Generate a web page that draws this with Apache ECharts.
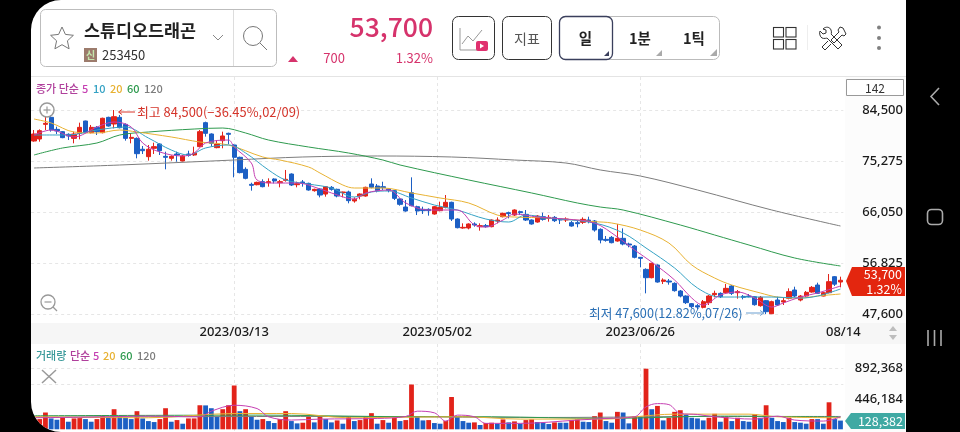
<!DOCTYPE html>
<html><head><meta charset="utf-8">
<style>
html,body{margin:0;padding:0;background:#000;width:960px;height:432px;overflow:hidden}
#frame{position:absolute;left:31px;top:0;width:875px;height:432px;background:#fff;border-radius:30px 0 0 30px;overflow:hidden}
#band{position:absolute;left:0;top:323px;width:875px;height:21px;background:#f6f6f6}
#gut{position:absolute;left:814px;top:77px;width:61px;height:355px;background:#fcfcfc}
#topline{position:absolute;left:0;top:76px;width:875px;height:1px;background:#e4e4e4}
#chart{position:absolute;left:-31px;top:0;width:960px;height:432px}
#hdr{position:absolute;left:0;top:0;width:960px;height:432px}
text{font-family:"Noto Sans CJK KR","Noto Sans",sans-serif}
</style></head><body>
<div id="frame"><div id="gut"></div><div id="band"></div><div id="topline"></div><div id="chart"></div></div>
<svg id="hdr" viewBox="0 0 960 432" xmlns="http://www.w3.org/2000/svg">
<rect x="40.5" y="9.5" width="236" height="57" rx="5" fill="#fff" stroke="#bdbdbd"/>
<line x1="233.5" y1="10" x2="233.5" y2="66" stroke="#ddd"/>
<path d="M62 27l3.4 7.4 8 .9-6 5.5 1.7 8-7.1-4.1-7.1 4.1 1.7-8-6-5.5 8-.9z" fill="none" stroke="#777" stroke-width="1"/>
<text x="84" y="37" font-size="17.4" font-weight="700" fill="#222">스튜디오드래곤</text>
<rect x="84" y="48" width="13" height="14" fill="#9c7b6c"/>
<text x="90.5" y="59" font-size="10" font-weight="700" fill="#c5e8ad" text-anchor="middle">신</text>
<text x="102" y="60" font-size="13" fill="#333">253450</text>
<path d="M213 35l5 5 5-5" fill="none" stroke="#888"/>
<circle cx="253" cy="36" r="9.5" fill="none" stroke="#777"/><line x1="260" y1="43" x2="267" y2="50" stroke="#777"/>
<text x="433" y="37" font-size="26.5" font-weight="500" fill="#d6336c" text-anchor="end">53,700</text>
<path d="M288 62l5-6 5 6z" fill="#d6336c"/>
<text x="345" y="63" font-size="13" fill="#d6336c" text-anchor="end">700</text>
<text x="433" y="63" font-size="13" fill="#d6336c" text-anchor="end">1.32%</text>
<rect x="452.5" y="16.5" width="42" height="43" rx="6" fill="#fff" stroke="#333"/>
<path d="M460 28v22h22M462 44l6-8 5 5 9-11" fill="none" stroke="#999"/>
<rect x="476" y="41" width="12" height="10" rx="2" fill="#e0316f"/><path d="M480 43.5l4 2.5-4 2.5z" fill="#fff"/>
<rect x="502.5" y="16.5" width="49" height="43" rx="6" fill="#fff" stroke="#333"/>
<text x="527" y="44" font-size="14" fill="#555" text-anchor="middle">지표</text>
<rect x="559.5" y="16.5" width="160" height="43" rx="6" fill="#fff" stroke="#bbb"/>
<rect x="559.5" y="16.5" width="53" height="43" rx="6" fill="#fff" stroke="#3a3f5c" stroke-width="1.3"/>
<text x="585.5" y="44" font-size="14.500" font-weight="700" fill="#222" text-anchor="middle">일</text>
<text x="640" y="44" font-size="14.500" font-weight="700" fill="#222" text-anchor="middle">1분</text>
<text x="694" y="44" font-size="14.500" font-weight="700" fill="#222" text-anchor="middle">1틱</text>
<path d="M604 56l5-5v5z" fill="#3a3f5c"/><path d="M656 56l6-6v6z" fill="#aaa"/><path d="M710 56l7-7v7z" fill="#aaa"/>
<g fill="none" stroke="#333" stroke-width="1.1"><rect x="773.5" y="27.5" width="10" height="9.5"/><rect x="786" y="27.5" width="10" height="9.5"/><rect x="773.5" y="39.5" width="10" height="9.5"/><rect x="786" y="39.5" width="10" height="9.5"/></g>
<line x1="807.5" y1="25" x2="807.5" y2="50" stroke="#eee"/>
<g fill="none" stroke="#333" stroke-width="1"><path d="M823 29c3-3 7-2 8 1s0 4 0 4l11 11-4 4-11-11s-3 1-5 0-3-5-2-7l3 3 3-1 0-3z"/><path d="M843 28l-3-1-2 3 1 2-8 8 3 3 8-8 2 1 2-2z" /><path d="M828 41l-6 6 3 3 6-6"/></g>
<g fill="#808080"><circle cx="879" cy="27.5" r="2"/><circle cx="879" cy="38" r="2"/><circle cx="879" cy="48" r="2"/></g>
<path d="M939 88l-8 8.5 8 8.5" fill="none" stroke="#aaa" stroke-width="1.6"/>
<rect x="927.5" y="209.5" width="15" height="15" rx="4" fill="none" stroke="#aaa" stroke-width="1.6"/>
<path d="M928 330v16M934.500 330v16M941 330v16" stroke="#aaa" stroke-width="1.6"/>
</svg>
<script src="https://cdn.jsdelivr.net/npm/echarts@6/dist/echarts.min.js"></script>
<script>
const opens=[78890,79250,81900,83170,81000,80580,80100,79370,80280,82510,
80400,81360,80400,83170,81970,83170,81900,79370,79370,77400,
76060,77570,78350,76120,75760,76540,75280,76540,76360,77870,
82210,80160,77690,78950,80280,78170,75940,73770,71050,70990,
71540,71350,72020,71350,71780,72920,70990,71480,71230,69910,
70210,69300,70510,70150,69550,69670,68040,68940,68940,71110,
70750,70630,70210,69910,68400,66950,69540,67010,66530,66530,
65690,66290,66890,67800,64780,63155,63155,63880,63395,63580,
63395,64420,65200,65930,65500,66110,65625,64600,64240,65200,
64900,65080,64780,64600,64120,64120,64180,64600,64420,62910,
61100,61465,60800,61285,60260,59900,57850,55670,54170,56460,
53505,53565,53140,51760,50850,49470,49100,48800,49650,51095,
51335,51455,52660,51455,50790,50850,50730,49105,50010,47650,
50130,49770,50430,51940,50130,50850,51575,52840,50850,51455,
54350,53385];
const closes=[80160,80760,82090,80880,80700,79500,79800,80160,81360,80400,
81360,80580,83000,81600,83290,81300,79370,79550,76600,77140,
77400,77870,77140,75940,76120,76360,76180,76300,76720,80580,
80280,78470,78350,79800,80100,75940,73170,72140,70870,71410,
70630,71540,71660,71540,71960,70930,71170,71290,70030,70150,
69120,70630,70150,68940,69670,68100,68340,69300,70510,70510,
69910,70450,69970,68520,67435,66230,67190,66230,66290,66290,
67010,66890,67800,64780,63210,63275,63880,63700,63580,63395,
64600,64600,65810,65750,66410,65930,64600,63880,65320,64720,
65080,64480,64600,64780,63515,63940,64720,64420,62790,60980,
60920,60500,61285,60260,60080,57850,57670,54170,56760,53385,
53750,53385,51820,50850,49650,48925,48860,49830,50850,51335,
50730,52240,51335,51640,50610,50730,49285,50610,48020,49830,
49225,50010,51640,50850,50850,51515,52420,51335,51455,53450,
53000,53700];
const lows=[78770,78770,80880,80580,80160,79400,79070,78470,79190,80280,
80280,79980,80280,81490,81180,81180,78950,78470,75760,76540,
75340,76540,76360,73770,75340,75150,75200,76060,76180,77750,
79680,77870,77570,77570,78290,72320,73040,71960,69910,70870,
70510,70630,71230,70510,71540,70750,70510,70630,69910,69730,
68700,68820,69910,68700,68700,67620,67740,68340,68820,70330,
69610,70030,69610,68220,67190,66110,67070,65500,65690,65385,
65570,66170,66710,64420,63090,63030,62910,63395,62670,63210,
63275,64000,65080,64900,65320,65500,64420,63760,64120,64480,
64300,64240,63880,64240,63395,63275,63880,64000,62490,60380,
60680,60380,60680,60020,59660,57670,56040,51335,54050,53265,
53020,52900,51640,50610,49405,48680,48440,48620,49225,50610,
50490,51335,51030,50370,50250,50610,49105,48925,47600,47600,
49045,49225,50250,50610,49890,50730,51455,51215,50790,51335,
52660,52420];
const highs=[80880,81000,83410,83600,81490,80700,80280,80580,82210,82570,
81790,81600,83110,83290,84500,83600,82090,80280,79550,77990,
78170,78590,78470,76960,76300,76960,76360,77140,77870,80880,
82390,80280,79070,80580,80400,78290,76060,74130,71350,71540,
71960,72140,72140,71840,73650,73040,71540,71840,71350,70270,
70390,70750,70750,70270,69730,69910,68700,69420,70630,72140,
71110,71530,70330,70030,68520,68220,72320,67190,67010,66710,
67130,67920,69120,67920,64900,64000,64000,64180,64000,63880,
64720,65080,65930,66110,66530,66290,66410,64720,65500,65930,
65500,65320,64900,65080,64420,64600,65080,65200,64600,63090,
61710,61710,63880,63090,60500,60080,57910,55860,56880,56580,
54050,53930,53325,51940,50970,49590,49405,50130,51030,51820,
51515,53025,52840,51940,51030,51215,50850,50850,50130,50010,
50730,50610,52240,52540,51030,51760,52660,53265,51575,54830,
54470,54350];
const volumes=[150000,150350,247350,160050,140650,179450,111550,160050,164900,150350,
111550,150350,198850,174600,295850,198850,169750,150350,266750,160050,
121250,106700,150350,310400,111550,135800,82450,160050,160500,354050,
352000,310400,184300,295850,354050,645050,266750,295850,184300,140650,
150350,121250,92150,150350,266750,121250,87300,97000,184300,101850,
184300,150350,101850,130950,82450,184300,121250,135800,184300,237650,
82450,135800,97000,169750,121250,135800,659600,184300,130950,135800,
92150,82450,121250,475300,179450,121250,97000,101850,63050,92150,
97000,82450,145500,101850,116400,82450,135800,145500,106700,97000,
77600,101850,97000,96000,135800,145500,111550,106700,194000,247350,
121250,97000,257050,247350,87300,189150,184300,892368,295850,344350,
130950,169750,257050,281300,218250,169750,160050,130950,169750,227950,
111550,179450,121250,169750,121250,111550,223100,169750,354050,169750,
121250,106700,169750,106700,97000,82450,150350,150000,82450,397700,
150350,128382];
// moving-average readings: [bar index, value]
const ma5=[[0,79980],[3,80880],[7,79620],[11,81420],[14,82330],[17,81420],[19,78530],[22,76900],[26,76180],[28,76720],[30,78530],[34,79070],[35,77810],[38,74910],[39,71840],[42,71290],[46,71290],[48,70930],[52,69490],[56,68400],[58,69490],[62,70030],[65,67680],[69,66410],[74,66410],[77,63700],[79,63340],[82,64600],[84,65690],[88,65140],[93,64780],[98,64060],[102,61530],[105,59170],[108,57000],[112,53750],[115,50490],[117,49220],[120,51030],[123,51580],[126,50490],[129,48860],[131,49590],[134,50670],[137,51400],[141,52660]];
const ma10=[[0,79980],[6,79980],[11,80880],[16,81420],[20,79430],[24,77260],[27,76360],[30,77630],[34,78170],[37,76720],[41,73650],[44,71840],[48,71110],[52,70390],[56,68760],[59,69670],[62,69850],[66,68580],[70,67310],[74,66410],[79,64780],[83,64240],[86,65500],[90,64960],[98,64060],[103,62250],[107,59540],[112,55920],[116,52300],[120,50670],[125,50670],[129,50670],[134,50490],[137,50850],[141,52120]];
const ma20=[[0,82870],[3,82150],[7,80520],[11,80340],[15,80880],[18,80520],[24,79620],[29,78710],[34,78170],[40,76000],[43,75455],[48,74190],[50,73100],[54,70930],[56,70390],[61,70390],[66,69490],[71,68580],[76,67680],[81,65500],[84,65140],[90,64960],[98,64300],[101,64060],[106,62790],[111,60440],[115,56460],[119,54110],[122,52840],[127,51400],[130,50670],[134,50490],[137,50850],[141,51220]];
const ma60=[[0,76360],[5,77630],[11,78530],[15,79980],[20,80520],[28,81060],[33,81240],[37,80340],[41,79070],[48,77810],[55,76720],[61,75455],[64,74550],[76,71840],[87,69490],[95,67680],[99,66950],[103,66410],[113,63700],[119,61890],[125,60080],[133,57730],[141,56280]];
const ma120=[[0,74010],[15,74550],[35,75455],[47,76000],[60,76180],[73,76000],[84,75455],[93,74910],[99,73650],[106,72560],[116,70030],[129,66410],[141,63515]];
const volMa5=[[0,169750],[10,179450],[20,194000],[29,184300],[31,266750],[35,354050],[39,305550],[41,184300],[45,135800],[50,150350],[60,160050],[65,189150],[67,266750],[70,242500],[72,121250],[74,208550],[77,184300],[79,87300],[85,87300],[95,135800],[100,160050],[105,184300],[107,329800],[109,378300],[111,363750],[113,232800],[116,218250],[119,184300],[126,150350],[130,194000],[133,135800],[138,121250],[141,184300]];
const volMa20=[[0,184300],[20,169750],[35,232800],[45,232800],[55,169750],[66,179450],[75,184300],[85,150350],[100,150350],[105,184300],[112,223100],[125,223100],[130,184300],[141,169750]];
const volMa60=[[0,198850],[40,208550],[60,189150],[80,184300],[100,160050],[120,194000],[141,179450]];
const volMa120=[[0,179450],[50,189150],[90,174600],[120,189150],[141,189150]];
const dateLabels=['','2023/03/13','2023/05/02','2023/06/26','08/14'];

const RED='#e2231a',BLUE='#1c5fc4',C5='#c53fb2',C10='#35a2c4',C20='#e8b233',C60='#2e9a4e',C120='#7d7d7d';
const FONT='"Noto Sans","Noto Sans CJK KR",sans-serif',KR='"Noto Sans CJK KR","Noto Sans",sans-serif';
const cats=closes.map((_,i)=>String(i));
const L=31.14,W=812.2;
const GL='#e6e6e6';
const dash={show:true,lineStyle:{color:GL,type:[3,3],width:1}};
const catAxis=g=>({type:'category',gridIndex:g,data:cats,boundaryGap:true,show:false});
const line=(name,data,color,g,w)=>({name,type:'line',xAxisIndex:g,yAxisIndex:g,data,smooth:0.35,showSymbol:false,silent:true,animation:false,z:5,lineStyle:{color,width:w||1}});
const txt=(text,x,y,fill,size,o)=>({type:'text',z:70,x,y,style:{text,fill,font:(o&&o.weight||'400')+' '+size+'px '+KR,verticalAlign:'middle',align:o&&o.align||'left'}});
const legend=[['종가 단순',36,'#b0409c'],['5',82,C5],['10',93,C10],['20',110,C20],['60',127,C60],['120',144,C120]];
const legend2=[['거래량',36,'#3a9a9a'],['단순',70,'#b0409c'],['5',93,C5],['20',103,C20],['60',120,C60],['120',137,C120]];
const graphic=[
 ...legend.map(a=>txt(a[0],a[1],89,a[2],11,{weight:'500'})),
 ...legend2.map(a=>txt(a[0],a[1],356,a[2],11,{weight:'500'})),
 {type:'rect',z:50,shape:{x:846.5,y:79.5,width:57,height:16},style:{fill:'#fff',stroke:'#999'}},
 txt('142',875,88,'#333',12,{align:'center'}),
 {type:'line',z:50,shape:{x1:119,y1:112,x2:135,y2:112},style:{stroke:'#d9342b',lineWidth:1}},
 {type:'polyline',z:50,shape:{points:[[122,109.5],[118.5,112],[122,114.500]]},style:{stroke:'#d9342b',fill:'none'}},
 txt('최고 84,500(−36.45%,02/09)',137,112.5,'#d4342a',12.9),
 txt('최저 47,600(12.82%,07/26)',589,313.5,'#2a6fb5',12.7),
 {type:'line',z:50,shape:{x1:746,y1:313,x2:763,y2:313},style:{stroke:'#6a9fd0',lineWidth:1}},
 {type:'polyline',z:50,shape:{points:[[760,310.5],[764,313],[760,315.5]]},style:{stroke:'#6a9fd0',fill:'none'}},
 {type:'polygon',z:60,shape:{points:[[846,281],[852,267],[905,267],[905,296],[852,296]]},style:{fill:'#e3260f'}},
 txt('53,700',902,274,'#fff',12.5,{align:'right'}),
 txt('1.32%',902,289.5,'#fff',12.5,{align:'right'}),
 {type:'polygon',z:60,shape:{points:[[845,421],[851,413],[905,413],[905,429],[851,429]]},style:{fill:'#3fa9a3'}},
 txt('128,382',903,421,'#fff',12.5,{align:'right'}),
 {type:'circle',z:50,shape:{cx:47,cy:110,r:7},style:{fill:'rgba(255,255,255,.6)',stroke:'#999',lineWidth:1.5}},
 {type:'line',z:50,shape:{x1:43.5,y1:110,x2:50.5,y2:110},style:{stroke:'#999',lineWidth:1.2}},
 {type:'line',z:50,shape:{x1:47,y1:106.5,x2:47,y2:113.5},style:{stroke:'#999',lineWidth:1.2}},
 {type:'circle',z:50,shape:{cx:48,cy:302,r:7},style:{fill:'#fff',stroke:'#999',lineWidth:1.3}},
 {type:'line',z:50,shape:{x1:44.5,y1:302,x2:51.5,y2:302},style:{stroke:'#999',lineWidth:1.2}},
 {type:'line',z:50,shape:{x1:53,y1:307,x2:57,y2:311},style:{stroke:'#999',lineWidth:1.2}},
 {type:'line',z:50,shape:{x1:42,y1:370,x2:56,y2:383},style:{stroke:'#999',lineWidth:1.5}},
 {type:'line',z:50,shape:{x1:56,y1:370,x2:42,y2:383},style:{stroke:'#999',lineWidth:1.5}},
 {type:'polygon',z:50,shape:{points:[[889,331],[893,326],[897,331]]},style:{fill:'#bdbdbd'}},
 {type:'polygon',z:50,shape:{points:[[889,335],[893,340],[897,335]]},style:{fill:'#bdbdbd'}}
];
const chart=echarts.init(document.getElementById('chart'),null,{width:960,height:432,renderer:'canvas'});
chart.setOption({
 animation:false,
 grid:[
  {left:L,width:W,top:110,height:204},
  {left:L,width:W,top:368.7,height:60.6},
  {left:L,width:W,top:77,height:246},
  {left:L,width:W,top:344,height:88}
 ],
 xAxis:[catAxis(0),catAxis(1),
  {type:'value',gridIndex:2,min:0,max:142,interval:35.5,axisLine:{show:false},axisTick:{show:false},
   splitLine:Object.assign({showMinLine:false,showMaxLine:false},dash),
   axisLabel:{show:true,margin:3,showMinLabel:false,showMaxLabel:true,hideOverlap:false,color:'#1a1a1a',fontWeight:500,fontFamily:FONT,fontSize:13,formatter:v=>dateLabels[Math.round(v/35.5)]}},
  {type:'value',gridIndex:3,min:0,max:142,interval:35.5,axisLine:{show:false},axisTick:{show:false},axisLabel:{show:false},
   splitLine:Object.assign({showMinLine:false,showMaxLine:false},dash)}
 ],
 yAxis:[
  {type:'value',gridIndex:0,position:'right',min:47600,max:84500,interval:9225,axisLine:{show:false},axisTick:{show:false},splitLine:dash,
   axisLabel:{align:'right',margin:59.6,padding:[2,0,0,0],color:'#1a1a1a',fontWeight:500,fontFamily:FONT,fontSize:13,formatter:v=>Math.round(v).toLocaleString('en-US')}},
  {type:'value',gridIndex:1,position:'right',min:0,max:892368,interval:223092,axisLine:{show:false},axisTick:{show:false},
   splitLine:{show:true,lineStyle:{type:[3,3],width:1,color:['rgba(0,0,0,0)','rgba(0,0,0,0)','rgba(0,0,0,0)',GL,GL]}},
   axisLabel:{align:'right',margin:59.6,padding:[1,0,0,0],color:'#1a1a1a',fontWeight:500,fontFamily:FONT,fontSize:13,formatter:v=>(v>0&&Math.round(v/223092)%2===0)?Math.round(v).toLocaleString('en-US'):''}},
  {type:'value',gridIndex:2,min:0,max:1,show:false},
  {type:'value',gridIndex:3,min:0,max:1,show:false}
 ],
 series:[
  {name:'일봉',type:'candlestick',xAxisIndex:0,yAxisIndex:0,barWidth:4.8,clip:false,z:3,animation:false,
   data:opens.map((o,i)=>[o,closes[i],lows[i],highs[i]]),
   itemStyle:{color:RED,color0:BLUE,borderColor:RED,borderColor0:BLUE,borderWidth:1}},
  line('MA120',ma120,C120,0),line('MA60',ma60,C60,0),line('MA20',ma20,C20,0),line('MA10',ma10,C10,0),line('MA5',ma5,C5,0),
  {name:'거래량',type:'bar',xAxisIndex:1,yAxisIndex:1,barWidth:4.8,z:3,animation:false,
   data:volumes.map((v,i)=>({value:v,itemStyle:{color:(i===0||v>volumes[i-1])?RED:BLUE}}))},
  line('VMA120',volMa120,C120,1),line('VMA60',volMa60,C60,1),line('VMA20',volMa20,C20,1),line('VMA5',volMa5,C5,1)
 ],
 graphic
});
</script>
</body></html>
